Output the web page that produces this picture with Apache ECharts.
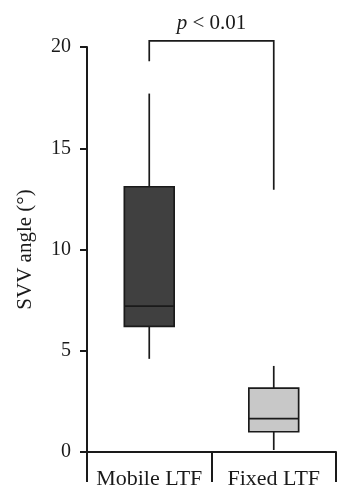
<!DOCTYPE html>
<html>
<head>
<meta charset="utf-8">
<script src="https://cdn.jsdelivr.net/npm/echarts@6/dist/echarts.min.js"></script>
<style>
  html, body { margin: 0; padding: 0; background: #fff; }
  #chart { width: 351px; height: 500px; }
</style>
</head>
<body>
<div id="chart"></div>
<script>
// categories and box stats: [min, Q1, median, Q3, max]
var categories = ['Mobile LTF', 'Fixed LTF'];
var mobileStats = [4.6, 6.2, 7.2, 13.1, 17.7];
var fixedStats = [0.1, 1.0, 1.65, 3.15, 4.25];
var boxColors = ['#404040', '#c8c8c8'];
// significance bracket: [top, left end, right end]
var bracket = [20.3, 19.3, 12.95];
var pLabel = '< 0.01';

var boxData = [
  [0].concat(mobileStats),
  [1].concat(fixedStats)
];

var chart = echarts.init(document.getElementById('chart'));
var serif = 'Liberation Serif';
var ink = '#1a1a1a';

var option = {
  animation: false,
  grid: { left: 87, right: 15, top: 47, bottom: 48, containLabel: false, outerBoundsMode: 'none' },
  xAxis: {
    type: 'category',
    data: categories,
    boundaryGap: true,
    axisLine: { lineStyle: { color: ink, width: 2 } },
    axisTick: { show: true, length: 30, lineStyle: { color: ink, width: 2 } },
    axisLabel: { interval: 0, color: ink, fontFamily: serif, fontSize: 22, margin: 16 }
  },
  yAxis: {
    type: 'value',
    min: 0,
    max: 20,
    interval: 5,
    name: 'SVV angle (°)',
    nameLocation: 'middle',
    nameGap: 51,
    nameMoveOverlap: false,
    nameTextStyle: { color: ink, fontFamily: serif, fontSize: 21 },
    axisLine: { show: true, lineStyle: { color: ink, width: 2 } },
    axisTick: { show: true, length: 7, lineStyle: { color: ink, width: 2 } },
    axisLabel: { color: ink, fontFamily: serif, fontSize: 20, margin: 16 },
    splitLine: { show: false }
  },
  series: [
    {
      type: 'custom',
      data: boxData,
      renderItem: function (params, api) {
        var i = api.value(0);
        var half = api.size([1, 0])[0] * 0.2;
        var pMin = api.coord([i, api.value(1)]);
        var pQ1 = api.coord([i, api.value(2)]);
        var pMed = api.coord([i, api.value(3)]);
        var pQ3 = api.coord([i, api.value(4)]);
        var pMax = api.coord([i, api.value(5)]);
        var line = { stroke: ink, lineWidth: 1.7 };
        return {
          type: 'group',
          children: [
            { type: 'line', shape: { x1: pMin[0], y1: pMin[1], x2: pQ1[0], y2: pQ1[1] }, style: line },
            { type: 'line', shape: { x1: pQ3[0], y1: pQ3[1], x2: pMax[0], y2: pMax[1] }, style: line },
            { type: 'rect', shape: { x: pQ3[0] - half, y: pQ3[1], width: half * 2, height: pQ1[1] - pQ3[1] },
              style: { fill: boxColors[i], stroke: ink, lineWidth: 1.7 } },
            { type: 'line', shape: { x1: pMed[0] - half, y1: pMed[1], x2: pMed[0] + half, y2: pMed[1] }, style: line }
          ]
        };
      }
    },
    {
      type: 'custom',
      data: [[0, 1]],
      clip: false,
      renderItem: function (params, api) {
        var lTop = api.coord([0, bracket[0]]);
        var lEnd = api.coord([0, bracket[1]]);
        var rTop = api.coord([1, bracket[0]]);
        var rEnd = api.coord([1, bracket[2]]);
        return {
          type: 'group',
          children: [
            { type: 'polyline', shape: { points: [lEnd, lTop, rTop, rEnd] },
              style: { stroke: ink, lineWidth: 1.7, fill: null } },
            { type: 'text', x: (lTop[0] + rTop[0]) / 2, y: lTop[1] - 17,
              style: {
                text: '{i|p} ' + pLabel,
                align: 'center', verticalAlign: 'middle',
                fill: ink, font: '21px ' + serif,
                rich: { i: { fontStyle: 'italic', fontFamily: serif, fontSize: 21, fill: ink } }
              } }
          ]
        };
      }
    }
  ]
};
chart.setOption(option);
</script>
</body>
</html>
